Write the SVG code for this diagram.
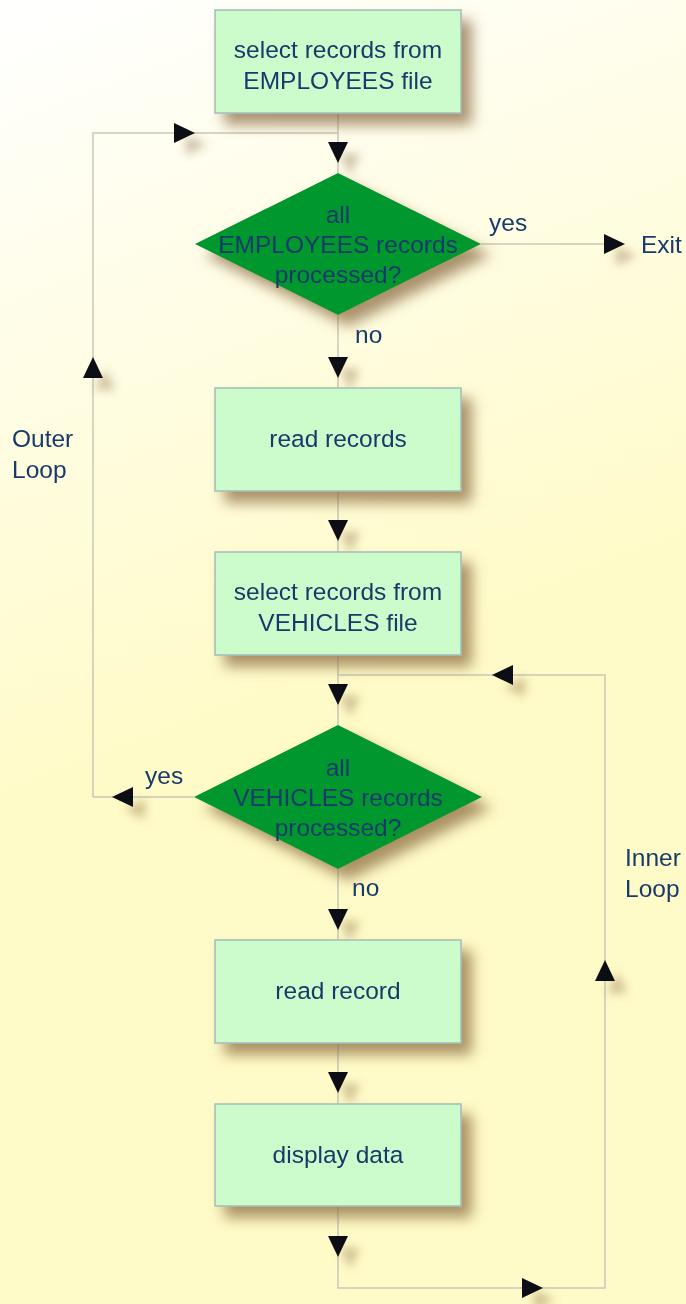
<svg xmlns="http://www.w3.org/2000/svg" xmlns:xlink="http://www.w3.org/1999/xlink" width="686" height="1304" viewBox="0 0 686 1304">
<defs>
<linearGradient id="bg" x1="0" y1="0" x2="0.12" y2="0.6">
<stop offset="0" stop-color="#ffffff"/>
<stop offset="1" stop-color="#fffbc8"/>
</linearGradient>
<filter id="sh" x="-20%" y="-20%" width="150%" height="160%">
<feGaussianBlur in="SourceAlpha" stdDeviation="7"/>
<feOffset dx="10" dy="11" result="b"/>
<feFlood flood-color="#86643a" flood-opacity="0.7"/>
<feComposite in2="b" operator="in"/>
<feMerge><feMergeNode/><feMergeNode in="SourceGraphic"/></feMerge>
</filter>
<filter id="ash" x="-100%" y="-100%" width="400%" height="400%">
<feGaussianBlur in="SourceAlpha" stdDeviation="5"/>
<feOffset dx="12" dy="12" result="b"/>
<feFlood flood-color="#86643a" flood-opacity="0.4"/>
<feComposite in2="b" operator="in"/>
<feMerge><feMergeNode/><feMergeNode in="SourceGraphic"/></feMerge>
</filter>
<path id="aDown" d="M-10,-10 L10,-10 L0,11 Z"/>
<path id="aUp" d="M-10,10 L10,10 L0,-11 Z"/>
<path id="aRight" d="M-10,-10 L-10,10 L11,0 Z"/>
<path id="aLeft" d="M10,-10 L10,10 L-11,0 Z"/>
</defs>
<style>
.box{fill:#ccfccc;stroke:#a4bcb8;stroke-width:1.5;}
.dia{fill:#00972f;}
.t{font-family:"Liberation Sans",Arial,Helvetica,sans-serif;font-size:24.5px;fill:#183a6a;}
.c{text-anchor:middle;}
.ln{fill:none;stroke:#c9c9b6;stroke-width:1.5;}
.ar{fill:#0a0a14;}
</style>
<rect x="0" y="0" width="686" height="1304" fill="url(#bg)"/>

<g id="connectors">
<path class="ln" d="M338,113 V173"/>
<path class="ln" d="M93,797 V133 H338"/>
<path class="ln" d="M481,244 H612"/>
<path class="ln" d="M338,315 V388"/>
<path class="ln" d="M338,491 V552"/>
<path class="ln" d="M338,655 V725"/>
<path class="ln" d="M338,675 H605 V1288 H338 V1206"/>
<path class="ln" d="M194,797 H93"/>
<path class="ln" d="M338,869 V940"/>
<path class="ln" d="M338,1043 V1104"/>
<g class="ar" filter="url(#ash)">
<use xlink:href="#aRight" x="184" y="133"/>
<use xlink:href="#aDown" x="338" y="152"/>
<use xlink:href="#aRight" x="614" y="244"/>
<use xlink:href="#aDown" x="338" y="367"/>
<use xlink:href="#aUp" x="93" y="368"/>
<use xlink:href="#aDown" x="338" y="530"/>
<use xlink:href="#aLeft" x="503" y="675"/>
<use xlink:href="#aDown" x="338" y="694"/>
<use xlink:href="#aLeft" x="123" y="797"/>
<use xlink:href="#aDown" x="338" y="919"/>
<use xlink:href="#aUp" x="605" y="971"/>
<use xlink:href="#aDown" x="338" y="1082"/>
<use xlink:href="#aDown" x="338" y="1246"/>
<use xlink:href="#aRight" x="532" y="1288"/>
</g>
<text class="t" x="489" y="231">yes</text>
<text class="t" x="641" y="253">Exit</text>
<text class="t" x="355" y="343">no</text>
<text class="t" x="145" y="784">yes</text>
<text class="t" x="352" y="896">no</text>
<text class="t" x="12" y="447">Outer</text>
<text class="t" x="12" y="478">Loop</text>
<text class="t" x="625" y="866">Inner</text>
<text class="t" x="625" y="897">Loop</text>
</g>

<g id="n1">
<rect class="box" x="215" y="10" width="246" height="103" filter="url(#sh)"/>
<text class="t c" x="338" y="58">select records from</text>
<text class="t c" x="338" y="89">EMPLOYEES file</text>
</g>
<g id="d1">
<polygon class="dia" points="338,173 481,244 338,315 195,244" filter="url(#sh)"/>
<text class="t c" x="338" y="223">all</text>
<text class="t c" x="338" y="253">EMPLOYEES records</text>
<text class="t c" x="338" y="283">processed?</text>
</g>
<g id="n2">
<rect class="box" x="215" y="388" width="246" height="103" filter="url(#sh)"/>
<text class="t c" x="338" y="447">read records</text>
</g>
<g id="n3">
<rect class="box" x="215" y="552" width="246" height="103" filter="url(#sh)"/>
<text class="t c" x="338" y="600">select records from</text>
<text class="t c" x="338" y="631">VEHICLES file</text>
</g>
<g id="d2">
<polygon class="dia" points="338,725 482,797 338,869 194,797" filter="url(#sh)"/>
<text class="t c" x="338" y="776">all</text>
<text class="t c" x="338" y="806">VEHICLES records</text>
<text class="t c" x="338" y="836">processed?</text>
</g>
<g id="n4">
<rect class="box" x="215" y="940" width="246" height="103" filter="url(#sh)"/>
<text class="t c" x="338" y="999">read record</text>
</g>
<g id="n5">
<rect class="box" x="215" y="1104" width="246" height="102" filter="url(#sh)"/>
<text class="t c" x="338" y="1163">display data</text>
</g>
</svg>
